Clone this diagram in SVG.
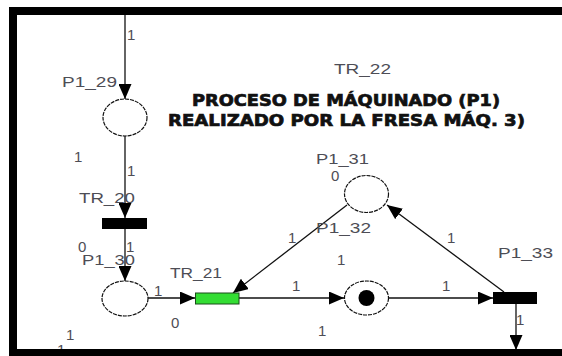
<svg xmlns="http://www.w3.org/2000/svg" width="562" height="356" viewBox="0 0 562 356">
<defs>
<style>
.lbl{font-family:"Liberation Sans",Arial,sans-serif;font-size:15px;fill:#4d4d55}
.title{font-family:"DejaVu Sans","Liberation Sans",sans-serif;font-weight:900;font-size:16px;fill:#111;stroke:#111;stroke-width:0.7}
.place{fill:#fff;stroke:#111;stroke-width:1.2;stroke-dasharray:4 1}
.arc{stroke:#111;stroke-width:1.3;fill:none;marker-end:url(#ah)}
.frame{fill:#000}
</style>
<marker id="ah" markerUnits="userSpaceOnUse" markerWidth="15" markerHeight="13" refX="15" refY="6.5" orient="auto">
<path d="M0,0 L15,6.5 L0,13 z" fill="#000"/>
</marker>
</defs>
<rect width="562" height="356" fill="#fff"/>
<g id="connectors">
<line class="arc" x1="125" y1="15" x2="125" y2="99"/>
<line class="arc" x1="125" y1="136" x2="125" y2="218"/>
<line class="arc" x1="125" y1="229" x2="125" y2="281"/>
<line class="arc" x1="148" y1="298" x2="195" y2="298"/>
<line class="arc" x1="239" y1="298" x2="344" y2="298"/>
<line class="arc" x1="389" y1="298" x2="493" y2="298"/>
<line class="arc" x1="516" y1="304" x2="516" y2="350"/>
<line class="arc" x1="504" y1="292" x2="387" y2="205"/>
<line class="arc" x1="347" y1="205" x2="233" y2="293"/>
</g>
<g id="P1_29"><ellipse class="place" cx="125" cy="117.5" rx="22" ry="18.5"/></g>
<g id="TR_20"><rect x="102" y="218" width="45" height="11" fill="#000"/></g>
<g id="P1_30"><ellipse class="place" cx="125" cy="298.5" rx="23" ry="17.5"/></g>
<g id="TR_21"><rect x="195.5" y="293" width="43.5" height="11" fill="#33dd33" stroke="#1a4d1a" stroke-width="1"/></g>
<g id="P1_31"><ellipse class="place" cx="366.5" cy="194" rx="22" ry="18.5"/></g>
<g id="P1_32"><ellipse class="place" cx="366.5" cy="298" rx="22" ry="17"/><circle cx="366.5" cy="298" r="8" fill="#000"/></g>
<g id="P1_33"><rect x="493" y="292" width="44" height="12" fill="#000"/></g>
<g id="labels">
<text class="lbl" x="127" y="40">1</text>
<text class="lbl" x="62" y="87" textLength="55" lengthAdjust="spacingAndGlyphs">P1_29</text>
<text class="lbl" x="334" y="74" textLength="57" lengthAdjust="spacingAndGlyphs">TR_22</text>
<text class="lbl" x="74" y="162">1</text>
<text class="lbl" x="127" y="176">1</text>
<text class="lbl" x="79" y="203" textLength="56" lengthAdjust="spacingAndGlyphs">TR_20</text>
<text class="lbl" x="316" y="164" textLength="53" lengthAdjust="spacingAndGlyphs">P1_31</text>
<text class="lbl" x="331" y="181">0</text>
<text class="lbl" x="288" y="243">1</text>
<text class="lbl" x="316" y="233" textLength="55" lengthAdjust="spacingAndGlyphs">P1_32</text>
<text class="lbl" x="78" y="252">0</text>
<text class="lbl" x="126" y="252">1</text>
<text class="lbl" x="82" y="265" textLength="53" lengthAdjust="spacingAndGlyphs">P1_30</text>
<text class="lbl" x="170" y="278" textLength="52" lengthAdjust="spacingAndGlyphs">TR_21</text>
<text class="lbl" x="337" y="265">1</text>
<text class="lbl" x="498" y="258" textLength="55" lengthAdjust="spacingAndGlyphs">P1_33</text>
<text class="lbl" x="447" y="243">1</text>
<text class="lbl" x="154" y="296">1</text>
<text class="lbl" x="292" y="291">1</text>
<text class="lbl" x="442" y="291">1</text>
<text class="lbl" x="171" y="328">0</text>
<text class="lbl" x="318" y="336">1</text>
<text class="lbl" x="516" y="325">1</text>
<text class="lbl" x="66" y="340">1</text>
<text class="lbl" x="57" y="355">1</text>
<text class="title" x="192" y="106" textLength="308" lengthAdjust="spacingAndGlyphs">PROCESO DE MÁQUINADO (P1)</text>
<text class="title" x="168" y="126" textLength="357" lengthAdjust="spacingAndGlyphs">REALIZADO POR LA FRESA MÁQ. 3)</text>
</g>
<g id="frame">
<rect class="frame" x="9" y="7" width="553" height="8"/>
<rect class="frame" x="9" y="7" width="8" height="349"/>
<rect class="frame" x="9" y="349" width="553" height="7"/>
</g>
</svg>
